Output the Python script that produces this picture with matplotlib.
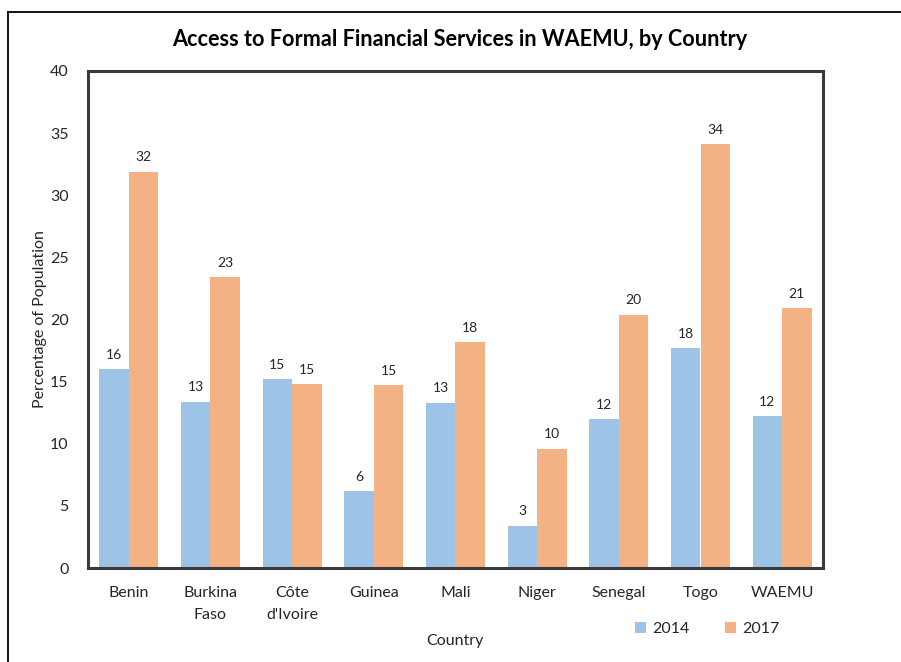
"""
Access to formal financial services in WAEMU, by country (2014 vs 2017).
"""

import numpy as np
import matplotlib.pyplot as plt
from matplotlib.lines import Line2D

countries = ["Benin", "Burkina\nFaso", "Côte\nd'Ivoire", "Guinea", "Mali",
             "Niger", "Senegal", "Togo", "WAEMU"]
values_2014 = [16.0, 13.4, 15.2, 6.2, 13.3, 3.4, 12.0, 17.7, 12.2]
values_2017 = [31.9, 23.4, 14.8, 14.7, 18.2, 9.6, 20.4, 34.1, 20.9]
years = ["2014", "2017"]

BLUE = "#9DC3E6"
ORANGE = "#F4B183"
TEXT = "#262626"
FONT = "Lato"

plt.rcParams["font.family"] = [FONT, "DejaVu Sans"]

fig = plt.figure(figsize=(9.01, 6.62), dpi=100)
ax = fig.add_axes([88 / 901, 94 / 662, 735 / 901, 497 / 662])

x = np.arange(len(countries))
width = 0.36
bars1 = ax.bar(x - width / 2, values_2014, width, color=BLUE, label=years[0])
bars2 = ax.bar(x + width / 2, values_2017, width, color=ORANGE, label=years[1])

for bars in (bars1, bars2):
    for bar in bars:
        h = bar.get_height()
        ax.annotate(f"{h:.0f}", (bar.get_x() + bar.get_width() / 2, h),
                    xytext=(0, 6), textcoords="offset points",
                    ha="center", va="bottom", fontsize=10, color=TEXT)

ax.set_xlim(-0.5, len(countries) - 0.5)
ax.set_ylim(0, 40)
ax.set_yticks(range(0, 41, 5))
ax.set_xticks(x)
ax.set_xticklabels(countries, fontsize=11.5, color=TEXT, linespacing=1.75,
                   va="top")
ax.tick_params(axis="y", labelsize=11.5, labelcolor=TEXT, length=0, pad=14)
ax.tick_params(axis="x", length=0, pad=13)

for spine in ax.spines.values():
    spine.set_linewidth(2.2)
    spine.set_color("#3a3a3a")

ax.set_ylabel("Percentage of Population", fontsize=11.5, color=TEXT,
              labelpad=2)
fig.text(455 / 901, 1 - 641 / 662, "Country", ha="center", va="center",
         fontsize=11.5, color=TEXT)

fig.text(460 / 901, 1 - 39 / 662,
         "Access to Formal Financial Services in WAEMU, by Country",
         ha="center", va="center", fontsize=15.6, fontweight="bold",
         color="black")

fig.legend(handles=[bars1, bars2], labels=years, loc="center",
           bbox_to_anchor=(707 / 901, 1 - 629 / 662), ncol=2, frameon=False,
           fontsize=11.5, handlelength=0.7, handleheight=0.7,
           handletextpad=0.4, columnspacing=2.2, labelcolor=TEXT)

# outer frame (left and top edges only)
y_top = 1 - 12 / 662
x_left = 8 / 901
fig.add_artist(Line2D([x_left, x_left], [0, y_top], color="black", lw=1.3,
                      transform=fig.transFigure))
fig.add_artist(Line2D([x_left, 1], [y_top, y_top], color="black", lw=1.3,
                      transform=fig.transFigure))

fig.savefig("out.png", dpi=100)
